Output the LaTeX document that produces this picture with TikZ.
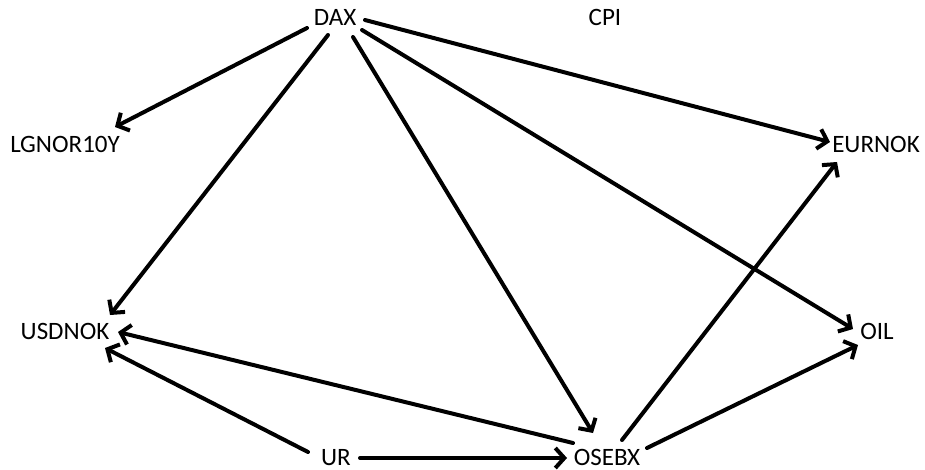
\documentclass[tikz,border=0pt]{standalone}
\usepackage{fontspec}
\setmainfont{Carlito}
\usetikzlibrary{arrows.meta,calc}

\tikzset{
  var/.style={font=\fontsize{25}{25}\selectfont, inner sep=0pt,
              text height=15pt, text depth=0pt, anchor=center},
  link/.style={line width=4pt, -{Straight Barb[length=9pt,width=20pt,line width=4pt]},
               line cap=round, line join=round}
}

\begin{document}
\begin{tikzpicture}[x=1pt,y=-1pt]
  \useasboundingbox (0,0) rectangle (925,470);

  % variables
  \node[var] (DAX)    at (335,18)  {DAX};
  \node[var] (CPI)    at (605,18)  {CPI};
  \node[var] (LGNOR)  at (65,145)  {LGNOR10Y};
  \node[var] (EURNOK) at (876,145) {EURNOK};
  \node[var] (USDNOK) at (65,332)  {USDNOK};
  \node[var] (OIL)    at (877,332) {OIL};
  \node[var] (UR)     at (336,458) {UR};
  \node[var] (OSEBX)  at (607,458) {OSEBX};

  % edges out of DAX
  \draw[link] ($(DAX)+(-28,10)$) -- ($(LGNOR)+(50,-18)$);
  \draw[link] ($(DAX)+(-7,17)$)  -- ($(USDNOK)+(45,-17)$);
  \draw[link] ($(DAX)+(18,19)$)  -- ($(OSEBX)+(-14,-25)$);
  \draw[link] ($(DAX)+(27,12)$)  -- ($(OIL)+(-24,-3)$);
  \draw[link] ($(DAX)+(30,2)$)   -- ($(EURNOK)+(-46,-3)$);

  % edges out of OSEBX
  \draw[link] ($(OSEBX)+(15,-18)$)  -- ($(EURNOK)+(-39,17)$);
  \draw[link] ($(OSEBX)+(40,-10)$)  -- ($(OIL)+(-19,13)$);
  \draw[link] ($(OSEBX)+(-34,-15)$) -- ($(USDNOK)+(53,0)$);

  % edges out of UR
  \draw[link] ($(UR)+(-28,-6)$) -- ($(USDNOK)+(40,16)$);
  \draw[link] ($(UR)+(24,0)$)   -- ($(OSEBX)+(-40,0)$);
\end{tikzpicture}
\end{document}
